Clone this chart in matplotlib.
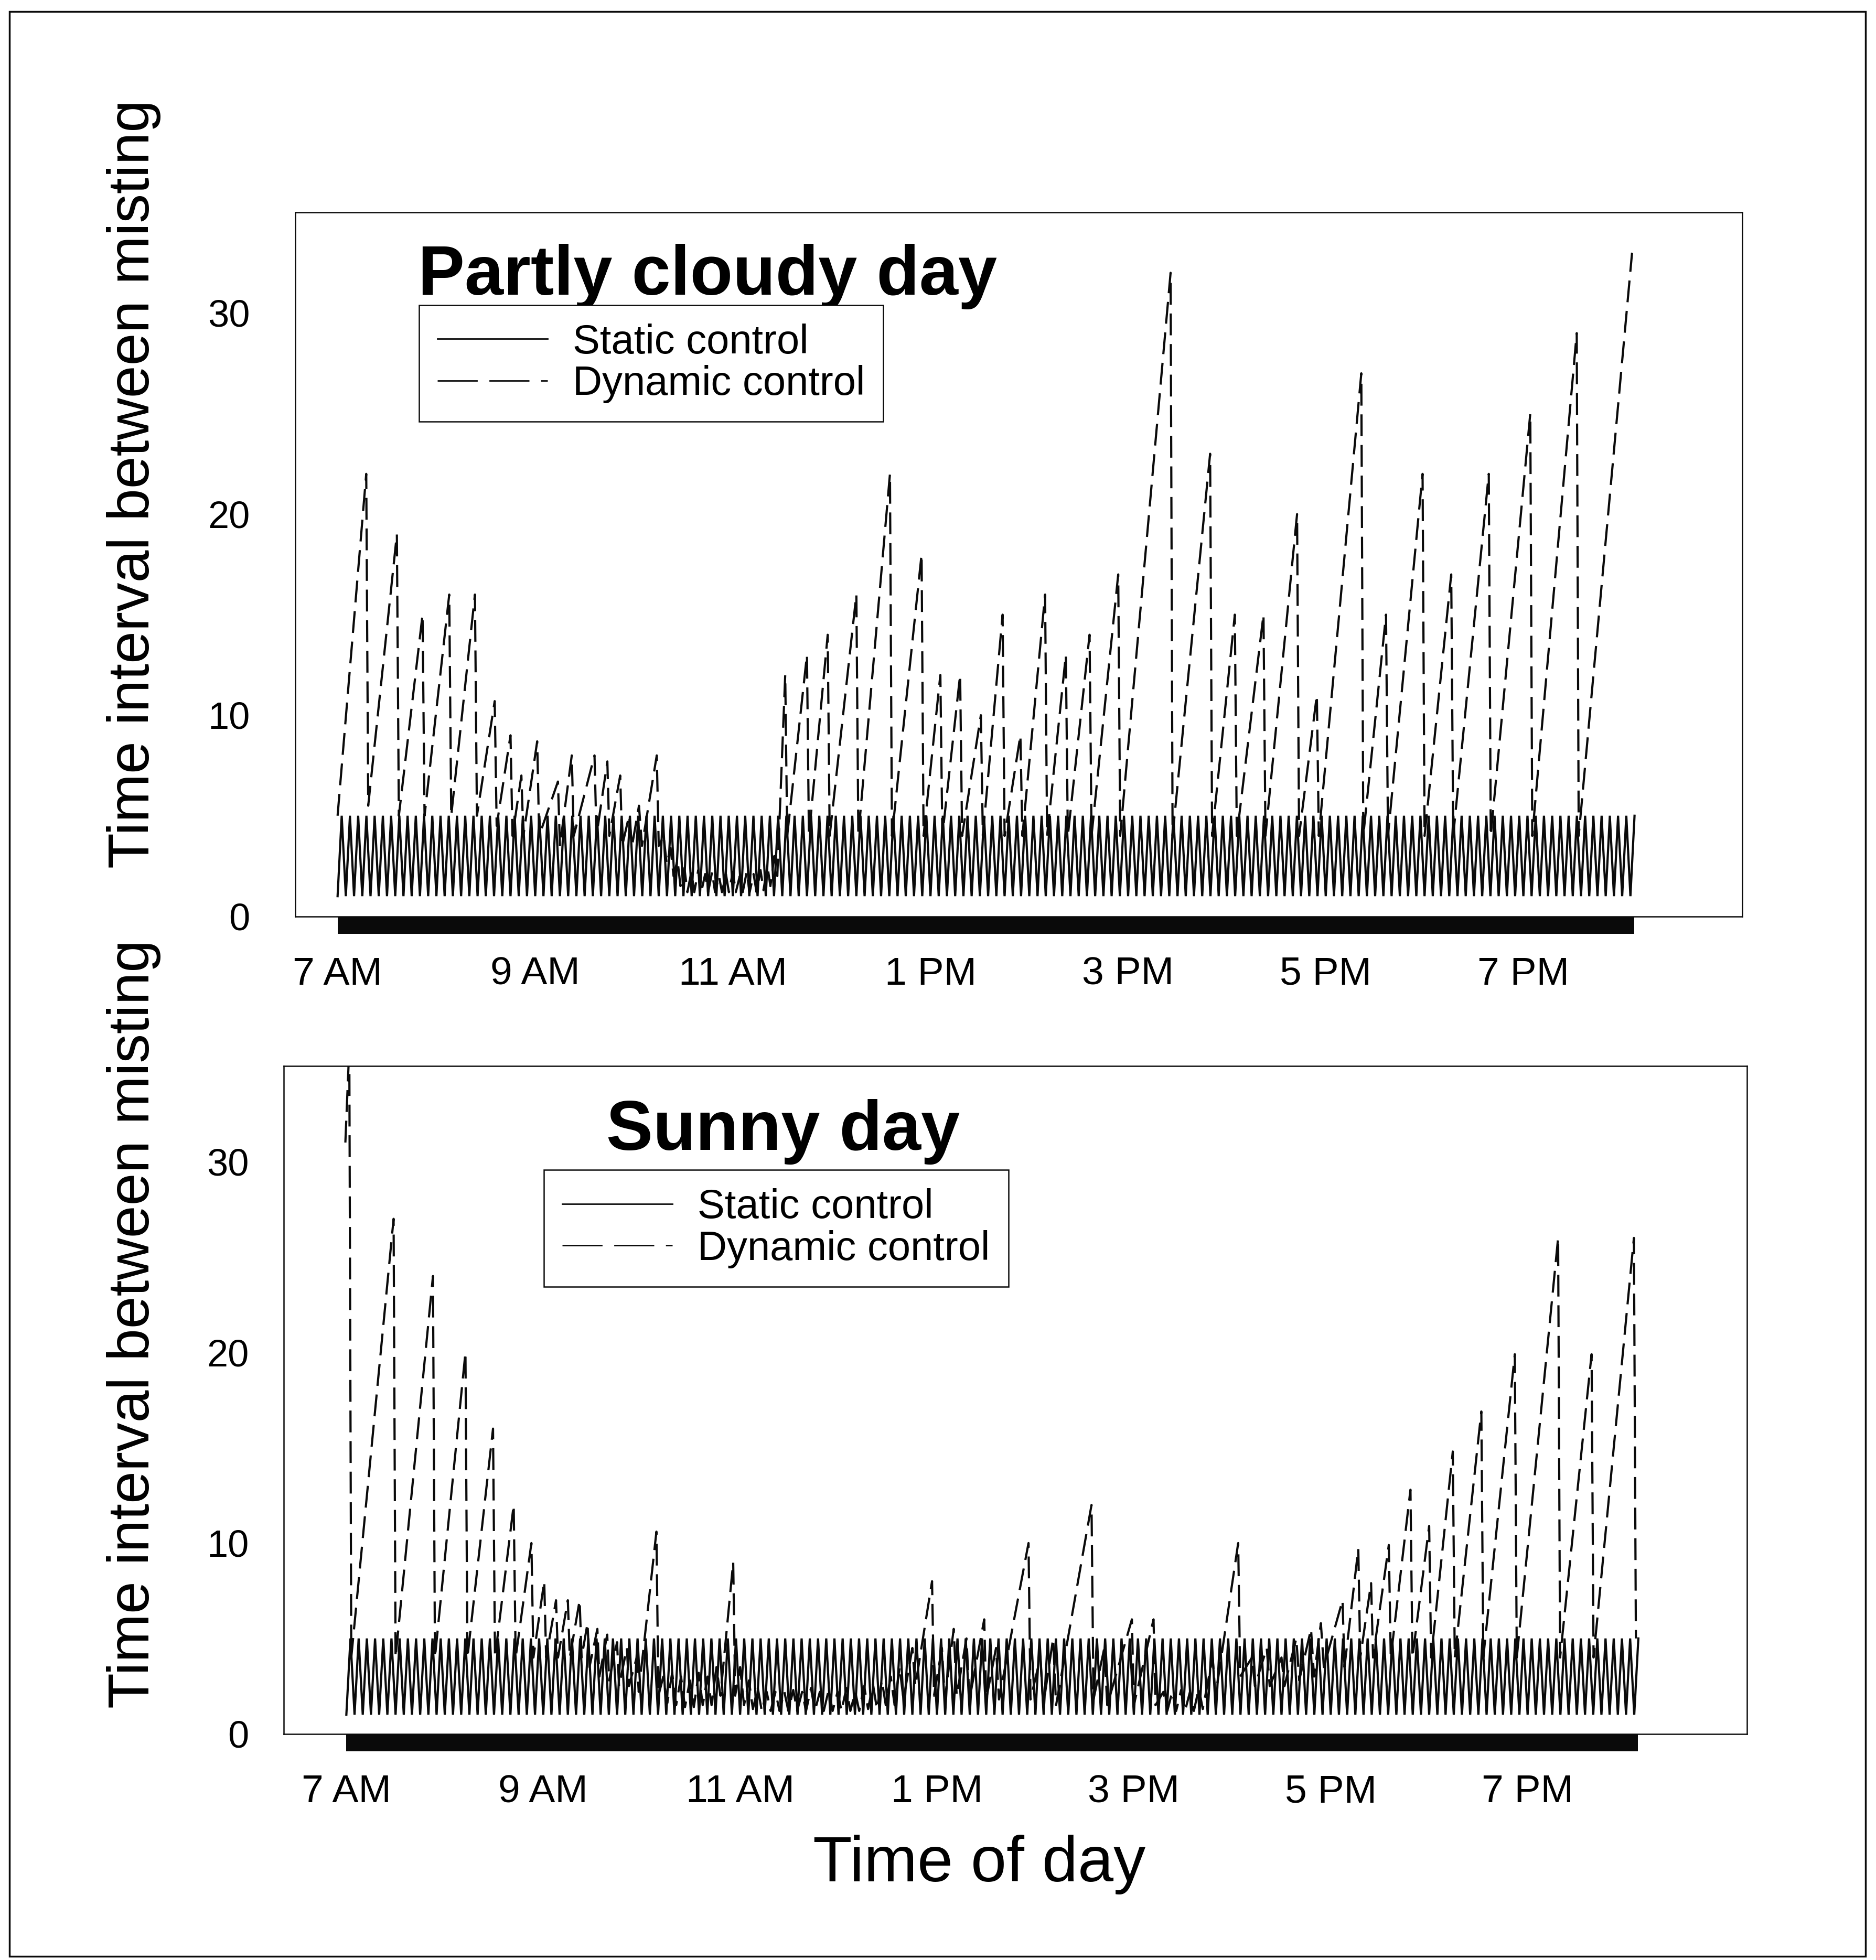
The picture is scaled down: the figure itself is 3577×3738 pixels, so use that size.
import numpy as np
import matplotlib.pyplot as plt
from matplotlib.patches import Rectangle
from matplotlib.lines import Line2D
from matplotlib.transforms import blended_transform_factory

plt.rcParams['font.family'] = ['Liberation Sans', 'DejaVu Sans']
plt.rcParams['lines.scale_dashes'] = False

# axis ticks
tick_hours = [7, 9, 11, 13, 15, 17, 19]
tick_labels = ['7 AM', '9 AM', '11 AM', '1 PM', '3 PM', '5 PM', '7 PM']
y_ticks = [0, 10, 20, 30]

# static control: fixed misting schedule (min / max interval, cycle length in minutes)
static_low = 1.0
static_high = 5.0
static_cycle_min = 5.0
day_start = 7.0
day_end = 20.12

# partly cloudy day, dynamic control (hour, minutes)
cloudy_t = [7.00, 7.29, 7.31, 7.60, 7.62, 7.86, 7.88, 8.13, 8.15, 8.39, 8.41, 8.59, 8.61,
            8.75, 8.77, 8.86, 8.88, 9.02, 9.04, 9.23, 9.25, 9.37, 9.39, 9.60, 9.62, 9.73,
            9.75, 9.86, 9.88, 9.95, 9.98, 10.05, 10.08, 10.23, 10.25,
            10.30, 10.33, 10.37, 10.40, 10.44, 10.47, 10.51, 10.54, 10.58, 10.61, 10.65,
            10.68, 10.72, 10.75, 10.79, 10.82, 10.86, 10.89, 10.93, 10.96, 11.00, 11.03,
            11.07, 11.10, 11.14, 11.17, 11.21, 11.24, 11.28, 11.31, 11.35, 11.38, 11.42,
            11.45, 11.53, 11.55, 11.75, 11.77, 11.96, 11.98, 12.25, 12.27, 12.59, 12.61,
            12.91, 12.93, 13.10, 13.12, 13.30, 13.32, 13.51, 13.53, 13.73, 13.75, 13.91,
            13.93, 14.16, 14.18, 14.37, 14.39, 14.61, 14.63, 14.90, 14.92, 15.43, 15.45,
            15.83, 15.85, 16.08, 16.10, 16.37, 16.39, 16.71, 16.73, 16.91, 16.93, 17.36,
            17.38, 17.61, 17.63, 17.98, 18.00, 18.27, 18.29, 18.65, 18.67, 19.07, 19.09,
            19.54, 19.56, 20.10]
cloudy_v = [5.0, 22.0, 5.5, 19.0, 5.0, 15.0, 5.0, 16.0, 5.0, 16.0, 5.0, 10.7, 4.5,
            9.0, 4.0, 7.0, 4.0, 8.7, 4.0, 6.7, 3.5, 8.0, 4.0, 8.0, 4.0, 7.7,
            4.0, 7.0, 3.5, 5.0, 3.5, 5.5, 3.5, 8.0, 3.5,
            4.0, 2.6, 3.4, 2.0, 2.8, 1.5, 2.4, 1.2, 2.2, 1.2, 2.3,
            1.2, 2.1, 1.2, 2.2, 1.2, 2.0, 1.2, 2.1, 1.2, 2.2, 1.2,
            2.0, 1.2, 2.2, 1.2, 2.1, 1.2, 2.3, 1.3, 2.5, 1.5, 3.0,
            2.0, 12.0, 4.0, 13.0, 4.0, 14.0, 4.0, 16.0, 4.0, 22.0, 4.0,
            18.0, 4.0, 12.0, 4.0, 12.0, 4.0, 10.0, 4.0, 15.0, 4.0, 9.0,
            4.0, 16.0, 4.0, 13.0, 4.0, 14.0, 4.0, 17.0, 4.0, 32.0, 4.0,
            23.0, 4.0, 15.0, 4.0, 15.0, 4.0, 20.0, 4.0, 11.0, 4.0, 27.0,
            4.0, 15.0, 4.0, 22.0, 4.0, 17.0, 4.0, 22.0, 4.0, 25.0, 4.0,
            29.0, 4.0, 33.0]

# sunny day, dynamic control (hour, minutes)
sunny_t = [6.99, 7.03, 7.05, 7.48, 7.50, 7.88, 7.90, 8.21, 8.23, 8.49, 8.51, 8.70, 8.72,
           8.88, 8.90, 9.01, 9.03, 9.13, 9.15, 9.25, 9.27, 9.37, 9.39,
           9.45, 9.47, 9.55, 9.57, 9.65, 9.67, 9.75, 9.77, 9.85, 9.87, 9.95, 9.97,
           10.15, 10.17, 10.22, 10.26, 10.31, 10.35, 10.40, 10.44, 10.49, 10.53, 10.58,
           10.62, 10.67, 10.71, 10.76, 10.80, 10.93, 10.95,
           11.00, 11.04, 11.09, 11.13, 11.18, 11.22, 11.27, 11.31, 11.36, 11.40, 11.45,
           11.49, 11.54, 11.58, 11.63, 11.67, 11.72, 11.76, 11.81, 11.85, 11.90, 11.94,
           11.99, 12.03, 12.08, 12.12, 12.17, 12.21, 12.26, 12.30, 12.35, 12.39, 12.44,
           12.48, 12.53, 12.57, 12.62, 12.66, 12.75, 12.78, 12.95, 12.97,
           13.05, 13.08, 13.17, 13.20, 13.30, 13.33, 13.48, 13.50, 13.60, 13.63, 13.93,
           13.95, 14.05, 14.08, 14.18, 14.21, 14.57, 14.59, 14.70, 14.73, 14.98, 15.00,
           15.20, 15.22, 15.30, 15.34, 15.39, 15.43, 15.48, 15.52, 15.57, 15.61, 15.66,
           15.70, 15.80, 15.83, 16.06, 16.08, 16.20, 16.23, 16.35, 16.38, 16.50, 16.53,
           16.65, 16.68, 16.80, 16.83, 16.90, 16.93, 17.12, 17.14, 17.28, 17.30, 17.41,
           17.43, 17.59, 17.61, 17.81, 17.83, 18.00, 18.02, 18.24, 18.26, 18.53, 18.55,
           18.87, 18.89, 19.31, 19.33, 19.65, 19.67, 20.08, 20.10]
sunny_v = [31.0, 36.0, 4.0, 27.0, 4.0, 24.0, 4.0, 20.0, 4.0, 16.0, 4.0, 12.0, 4.0,
           10.0, 4.0, 8.0, 4.0, 7.0, 4.0, 7.0, 4.0, 7.0, 4.0,
           5.8, 3.5, 5.5, 3.0, 5.2, 2.8, 4.8, 2.5, 4.5, 2.5, 4.0, 2.2,
           10.6, 2.0, 3.0, 1.6, 3.2, 1.5, 3.0, 1.4, 2.8, 1.4, 3.2,
           1.5, 3.0, 1.5, 3.5, 2.0, 9.0, 2.0,
           3.5, 1.5, 2.8, 1.3, 2.4, 1.2, 2.2, 1.2, 2.2, 1.2, 2.2,
           1.2, 2.3, 1.2, 2.2, 1.2, 2.4, 1.2, 2.2, 1.2, 2.3, 1.2,
           2.2, 1.2, 2.4, 1.2, 2.2, 1.2, 2.5, 1.3, 2.6, 1.3, 2.8,
           1.5, 3.0, 1.5, 3.5, 1.8, 4.5, 2.5, 8.0, 2.0,
           4.5, 1.8, 5.5, 2.0, 5.0, 1.8, 6.0, 1.8, 4.5, 1.8, 10.0,
           1.8, 4.0, 1.5, 5.0, 1.5, 12.0, 1.8, 4.5, 1.5, 6.0, 1.5,
           6.0, 1.5, 2.2, 1.2, 2.2, 1.2, 2.3, 1.2, 2.2, 1.2, 2.4,
           1.3, 4.0, 2.0, 10.0, 3.0, 4.0, 2.5, 4.5, 2.5, 4.0, 2.5,
           5.0, 2.8, 5.5, 3.0, 5.8, 3.5, 7.0, 3.5, 9.7, 4.0, 7.9,
           4.0, 9.9, 4.0, 12.8, 4.0, 10.9, 4.0, 14.8, 4.0, 16.9, 4.0,
           19.9, 4.0, 26.0, 4.0, 19.9, 4.0, 26.0, 5.0]

ink = '#0a0a0a'

# static schedule vertices
n_half = int(round((day_end - day_start) * 60 / (static_cycle_min / 2)))
static_t = day_start + np.arange(n_half + 1) * (static_cycle_min / 2) / 60
static_v = np.where(np.arange(n_half + 1) % 2 == 0, static_low, static_high)

fig = plt.figure(figsize=(35.77, 37.38), dpi=100)

panels = [
    dict(rect=[0.1573, 0.5325, 0.7714, 0.3591], xlim=(6.57, 21.215),
         t=cloudy_t, v=cloudy_v, title='Partly cloudy day', title_xy=(0.285, 0.883),
         leg_xy=(0.0856, 0.8686), ypad=62, bar_h=0.025),
    dict(rect=[0.1513, 0.1154, 0.7800, 0.3406], xlim=(6.365, 21.23),
         t=sunny_t, v=sunny_v, title='Sunny day', title_xy=(0.341, 0.875),
         leg_xy=(0.1778, 0.8446), ypad=48, bar_h=0.026),
]

for p in panels:
    ax = fig.add_axes(p['rect'])
    ax.plot(static_t, static_v, color=ink, lw=3.0, solid_joinstyle='miter')
    ax.plot(p['t'], p['v'], color=ink, lw=3.0, dashes=(30, 12))
    ax.set_xlim(*p['xlim'])
    ax.set_ylim(0, 35)
    ax.set_xticks(tick_hours)
    ax.set_xticklabels(tick_labels)
    ax.set_yticks(y_ticks)
    ax.tick_params(axis='x', length=0, pad=55, labelsize=54)
    ax.tick_params(axis='y', length=0, pad=p['ypad'], labelsize=52)
    for s in ax.spines.values():
        s.set_linewidth(1.8)
        s.set_color(ink)

    # thick band under the axis over the recorded period
    trans = blended_transform_factory(ax.transData, ax.transAxes)
    ax.add_patch(Rectangle((day_start, 0), day_end - day_start, -p['bar_h'],
                           transform=trans, clip_on=False, color=ink, lw=0))

    ax.text(p['title_xy'][0], p['title_xy'][1], p['title'], transform=ax.transAxes,
            ha='center', va='baseline', fontsize=96, fontweight='bold')

    handles = [Line2D([], [], color=ink, lw=2.0),
               Line2D([], [], color=ink, lw=2.0, dashes=(55, 16))]
    ax.legend(handles, ['Static control', 'Dynamic control'], loc='upper left',
              bbox_to_anchor=p['leg_xy'], fontsize=56, frameon=True, fancybox=False,
              edgecolor=ink, framealpha=1, handlelength=2.7, handletextpad=0.62,
              borderpad=0.45, labelspacing=0.08, borderaxespad=0)
    ax.get_legend().get_frame().set_linewidth(1.8)

fig.text(0.0713, 0.7532, 'Time interval between misting', rotation=90,
         ha='center', va='center', fontsize=80)
fig.text(0.0713, 0.3246, 'Time interval between misting', rotation=90,
         ha='center', va='center', fontsize=80)
fig.text(0.522, 0.0402, 'Time of day', ha='center', va='baseline', fontsize=88)

fig.add_artist(Rectangle((0.005, 0.002), 0.9895, 0.992, transform=fig.transFigure,
                         fill=False, lw=2.5, ec=ink))

fig.savefig('out.png', dpi=100, facecolor='white')
